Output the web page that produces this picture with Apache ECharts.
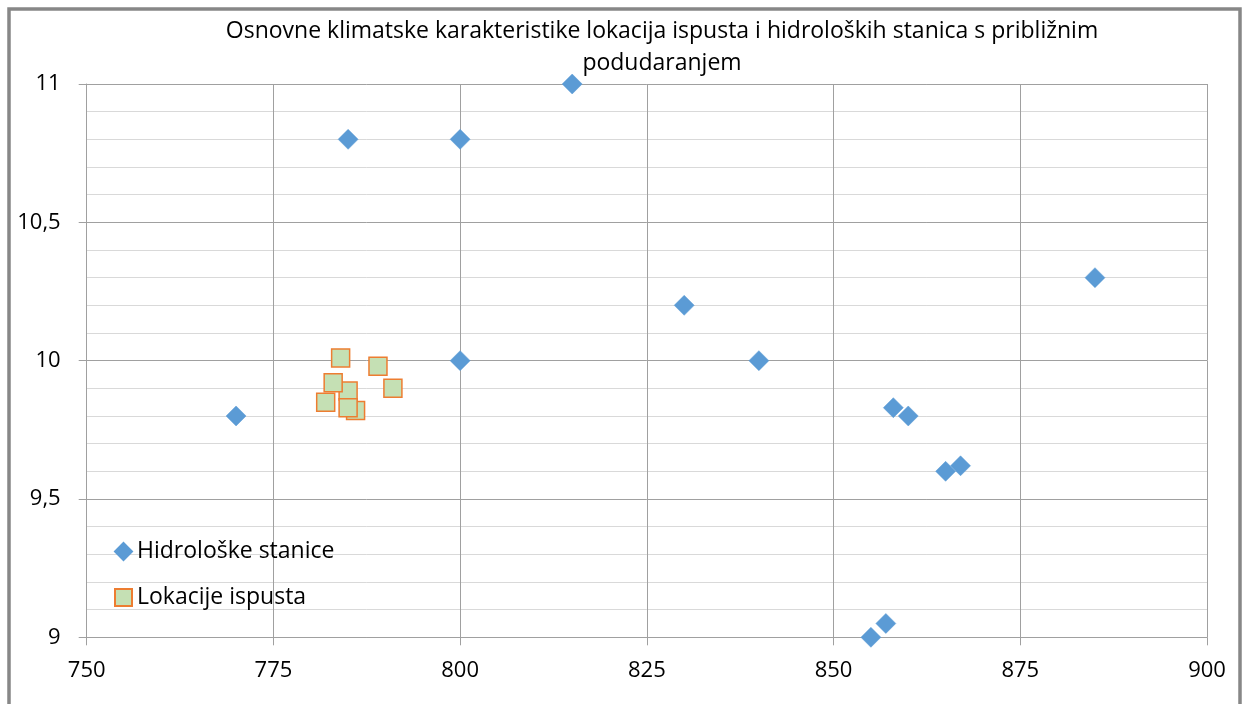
<!DOCTYPE html>
<html>
<head>
<meta charset="utf-8">
<script src="https://cdn.jsdelivr.net/npm/echarts@6/dist/echarts.min.js"></script>
<style>
  html, body { margin: 0; padding: 0; background: #fff; }
  #chart { width: 1246px; height: 704px; }
</style>
</head>
<body>
<div id="chart"></div>
<script>
// Hydrological stations: [x, y]
const hidroloskeStanice = [
  [770, 9.8], [785, 10.8], [800, 10.8], [815, 11], [800, 10],
  [830, 10.2], [840, 10], [885, 10.3], [858, 9.83], [860, 9.8],
  [865, 9.6], [867, 9.62], [857, 9.05], [855, 9.0]
];
// Discharge locations: [x, y]
const lokacijeIspusta = [
  [784, 10.01], [789, 9.98], [785, 9.89], [783, 9.92],
  [791, 9.9], [782, 9.85], [786, 9.82], [785, 9.83]
];
const seriesNames = ['Hidrološke stanice', 'Lokacije ispusta'];
const titleText = 'Osnovne klimatske karakteristike lokacija ispusta i hidroloških stanica s približnim\npodudaranjem';
const xRange = { min: 750, max: 900, step: 25 };
const yRange = { min: 9, max: 11, step: 0.5 };

const FONT = '"Open Sans", "Noto Sans", sans-serif';
const chart = echarts.init(document.getElementById('chart'), null, { renderer: 'canvas' });

chart.setOption({
  backgroundColor: '#fff',
  animation: false,
  title: {
    text: titleText,
    left: 662,
    top: 15,
    padding: 0,
    textAlign: 'center',
    textStyle: {
      fontFamily: FONT, fontSize: 23, fontWeight: 'normal',
      color: '#000', lineHeight: 32, align: 'center'
    }
  },
  graphic: [{
    type: 'rect',
    shape: { x: 9, y: 9, width: 1231, height: 720 },
    style: { fill: 'none', stroke: '#878787', lineWidth: 3.5 },
    silent: true
  }],
  legend: {
    orient: 'vertical',
    left: 114,
    top: 540,
    padding: 0,
    itemWidth: 17,
    itemHeight: 17,
    itemGap: 23,
    textStyle: { fontFamily: FONT, fontSize: 23, color: '#000', lineHeight: 20 },
    data: [
      { name: seriesNames[0], icon: 'diamond' },
      { name: seriesNames[1], icon: 'rect' }
    ]
  },
  grid: { left: 86.7, right: 39, top: 84, bottom: 66.7, containLabel: false },
  xAxis: {
    type: 'value',
    min: xRange.min, max: xRange.max, interval: xRange.step,
    axisLine: { show: true, onZero: false, lineStyle: { color: '#a0a0a0', width: 1 } },
    axisTick: { show: true, inside: false, length: 8, lineStyle: { color: '#a0a0a0' } },
    axisLabel: { fontFamily: FONT, fontSize: 22, color: '#000', margin: 22 },
    splitLine: { show: true, lineStyle: { color: '#a0a0a0', width: 1 } }
  },
  yAxis: {
    type: 'value',
    min: yRange.min, max: yRange.max, interval: yRange.step,
    axisLine: { show: true, onZero: false, lineStyle: { color: '#a0a0a0', width: 1 } },
    axisTick: { show: true, inside: false, length: 8, lineStyle: { color: '#a0a0a0' } },
    axisLabel: {
      fontFamily: FONT, fontSize: 22, color: '#000', margin: 26,
      formatter: v => String(+v.toFixed(1)).replace('.', ',')
    },
    splitLine: { show: true, lineStyle: { color: '#a0a0a0', width: 1 } },
    minorTick: { show: false, splitNumber: 5 },
    minorSplitLine: { show: true, lineStyle: { color: '#d9d9d9', width: 1 } }
  },
  series: [
    {
      name: seriesNames[0],
      type: 'scatter',
      symbol: 'diamond',
      symbolSize: 20,
      itemStyle: { color: '#5B9BD5', borderColor: '#5B9BD5', borderWidth: 0.5, opacity: 1 },
      data: hidroloskeStanice,
      z: 3
    },
    {
      name: seriesNames[1],
      type: 'scatter',
      symbol: 'rect',
      symbolSize: 18,
      itemStyle: { color: '#C5E0B4', borderColor: '#ED7D31', borderWidth: 1.5, opacity: 1 },
      data: lokacijeIspusta,
      z: 4
    }
  ]
});
</script>
</body>
</html>
